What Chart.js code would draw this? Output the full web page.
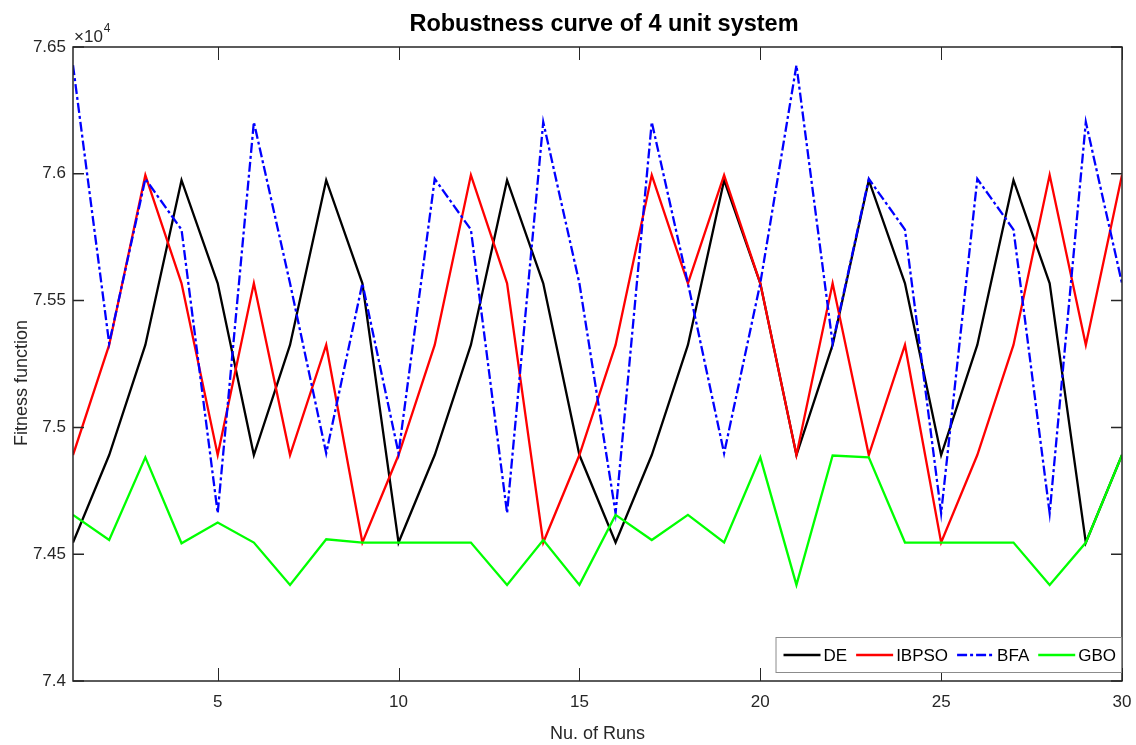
<!DOCTYPE html>
<html>
<head>
<meta charset="utf-8">
<script src="https://cdn.jsdelivr.net/npm/chart.js@4/dist/chart.umd.min.js"></script>
<style>
  body { margin: 0; background: #fff; }
  #wrap { width: 1136px; height: 745px; position: relative; }
</style>
</head>
<body>
<div id="wrap"><canvas id="myChart"></canvas></div>
<script>
// runs 1..30
const runs = [1, 2, 3, 4, 5, 6, 7, 8, 9, 10, 11, 12, 13, 14, 15, 16, 17, 18, 19, 20, 21, 22, 23, 24, 25, 26, 27, 28, 29, 30];

const seriesNames = ['DE', 'IBPSO', 'BFA', 'GBO'];

const deValues = [74546, 74891, 75325, 75975, 75568, 74891, 75325, 75975, 75568, 74546,
  74891, 75325, 75975, 75568, 74891, 74546, 74891, 75325, 75975, 75568,
  74891, 75325, 75975, 75568, 74891, 75325, 75975, 75568, 74546, 74891];

const ibpsoValues = [74891, 75325, 75995, 75568, 74891, 75568, 74891, 75325, 74546, 74891,
  75325, 75995, 75568, 74546, 74891, 75325, 75995, 75568, 75995, 75568,
  74891, 75568, 74891, 75325, 74546, 74891, 75325, 75995, 75325, 75995];

const bfaValues = [76428, 75331, 75980, 75780, 74662, 76204, 75568, 74898, 75568, 74898,
  75980, 75780, 74662, 76204, 75568, 74662, 76204, 75568, 74898, 75568,
  76428, 75331, 75980, 75780, 74662, 75980, 75780, 74662, 76204, 75568];

const gboValues = [74655, 74556, 74882, 74543, 74625, 74546, 74379, 74559, 74546, 74546,
  74546, 74546, 74379, 74556, 74379, 74655, 74556, 74655, 74546, 74882,
  74379, 74889, 74882, 74546, 74546, 74546, 74546, 74379, 74546, 74891];

const xTicks = [5, 10, 15, 20, 25, 30];
const yTicks = [74000, 74500, 75000, 75500, 76000, 76500];

const lineColors = ['#000000', '#ff0000', '#0000ff', '#00ff00'];
const lineDashes = [[], [], [10, 3, 3, 3], []];
const allValues = [deValues, ibpsoValues, bfaValues, gboValues];

const axisColor = '#262626';
const font = 'Liberation Sans, Arial, sans-serif';
const chartTitle = 'Robustness curve of 4 unit system';

function toPoints(vals) {
  return vals.map((v, i) => ({ x: runs[i], y: v }));
}

// box, inward ticks, title, x10^4 label, y title and legend drawn on top
const matlabBox = {
  id: 'matlabBox',
  afterDraw(chart) {
    const { ctx, chartArea: a, scales } = chart;
    ctx.save();
    ctx.strokeStyle = axisColor;
    ctx.lineWidth = 1.5;
    ctx.strokeRect(a.left, a.top, a.right - a.left, a.bottom - a.top);

    ctx.lineWidth = 1;
    ctx.beginPath();
    xTicks.forEach(v => {
      const px = Math.round(scales.x.getPixelForValue(v)) + 0.5;
      ctx.moveTo(px, a.bottom); ctx.lineTo(px, a.bottom - 13);
      ctx.moveTo(px, a.top); ctx.lineTo(px, a.top + 13);
    });
    ctx.stroke();
    ctx.lineWidth = 1.5;
    ctx.beginPath();
    yTicks.forEach(v => {
      const py = scales.y.getPixelForValue(v);
      ctx.moveTo(a.left, py); ctx.lineTo(a.left + 11, py);
      ctx.moveTo(a.right, py); ctx.lineTo(a.right - 11, py);
    });
    ctx.stroke();

    // title
    ctx.fillStyle = '#000000';
    ctx.textAlign = 'center';
    ctx.textBaseline = 'middle';
    ctx.font = 'bold 23.5px ' + font;
    ctx.fillText(chartTitle, 604, 25);

    // exponent label
    ctx.fillStyle = axisColor;
    ctx.textBaseline = 'alphabetic';
    ctx.textAlign = 'left';
    ctx.font = '17px ' + font;
    ctx.fillText('\u00d710', a.left + 1, 42);
    const w = ctx.measureText('\u00d710').width;
    ctx.font = '12px ' + font;
    ctx.fillText('4', a.left + 2 + w, 32);

    // y axis title
    ctx.save();
    ctx.translate(22, 383);
    ctx.rotate(-Math.PI / 2);
    ctx.textAlign = 'center';
    ctx.textBaseline = 'middle';
    ctx.font = '18px ' + font;
    ctx.fillText('Fitness function', 0, 0);
    ctx.restore();

    // legend inside, bottom right
    ctx.font = '17px ' + font;
    const lineLen = 37, gapIn = 3, gapOut = 9, padL = 8, padR = 6;
    const ds = chart.data.datasets;
    let total = padL + padR;
    ds.forEach((d, i) => {
      total += lineLen + gapIn + ctx.measureText(d.label).width;
      if (i < ds.length - 1) total += gapOut;
    });
    const bx = a.right - total, by = a.bottom - 44, bh = 36;
    ctx.fillStyle = '#ffffff';
    ctx.fillRect(bx, by, total, bh);
    ctx.strokeStyle = '#8c8c8c';
    ctx.lineWidth = 1;
    ctx.strokeRect(bx + 0.5, by + 0.5, total - 1, bh - 1);
    let cx = bx + padL;
    const cy = by + bh / 2;
    ds.forEach((d) => {
      ctx.strokeStyle = d.borderColor;
      ctx.lineWidth = d.borderWidth;
      ctx.setLineDash(d.borderDash || []);
      ctx.beginPath();
      ctx.moveTo(cx, cy); ctx.lineTo(cx + lineLen, cy);
      ctx.stroke();
      ctx.setLineDash([]);
      cx += lineLen + gapIn;
      ctx.fillStyle = '#000000';
      ctx.textAlign = 'left';
      ctx.textBaseline = 'middle';
      ctx.fillText(d.label, cx, cy + 1);
      cx += ctx.measureText(d.label).width + gapOut;
    });
    ctx.restore();
  }
};

const config = {
  type: 'line',
  data: {
    datasets: seriesNames.map((name, i) => ({
      label: name,
      data: toPoints(allValues[i]),
      borderColor: lineColors[i],
      backgroundColor: lineColors[i],
      borderDash: lineDashes[i],
      borderWidth: 2.3,
      pointRadius: 0,
      tension: 0,
      fill: false,
      order: seriesNames.length - i,
    })),
  },
  options: {
    responsive: true,
    maintainAspectRatio: false,
    animation: false,
    layout: { padding: { left: 0, right: 14, top: 47, bottom: 0 } },
    plugins: {
      legend: { display: false },
      tooltip: { enabled: false },
      title: { display: false },
    },
    scales: {
      x: {
        type: 'linear',
        min: 1,
        max: 30,
        afterBuildTicks: (s) => { s.ticks = xTicks.map(v => ({ value: v })); },
        afterFit: (s) => { s.height = 64; s.paddingLeft = 0; s.paddingRight = 0; },
        border: { display: false },
        grid: { display: false, drawTicks: false },
        ticks: { color: axisColor, padding: 11, font: { family: font, size: 17 }, maxRotation: 0 },
        title: {
          display: true,
          text: 'Nu. of Runs',
          color: axisColor,
          font: { family: font, size: 18 },
          padding: { top: 0, bottom: 0 },
        },
      },
      y: {
        min: 74000,
        max: 76500,
        afterBuildTicks: (s) => { s.ticks = yTicks.map(v => ({ value: v })); },
        afterFit: (s) => { s.width = 73; s.paddingTop = 0; s.paddingBottom = 0; },
        border: { display: false },
        grid: { display: false, drawTicks: false },
        ticks: {
          color: axisColor,
          padding: 7,
          font: { family: font, size: 17 },
          callback: (v) => String(parseFloat((v / 10000).toFixed(2))),
        },
      },
    },
  },
  plugins: [matlabBox],
};

const ctx = document.getElementById('myChart').getContext('2d');
const myChart = new Chart(ctx, config);
</script>
</body>
</html>
